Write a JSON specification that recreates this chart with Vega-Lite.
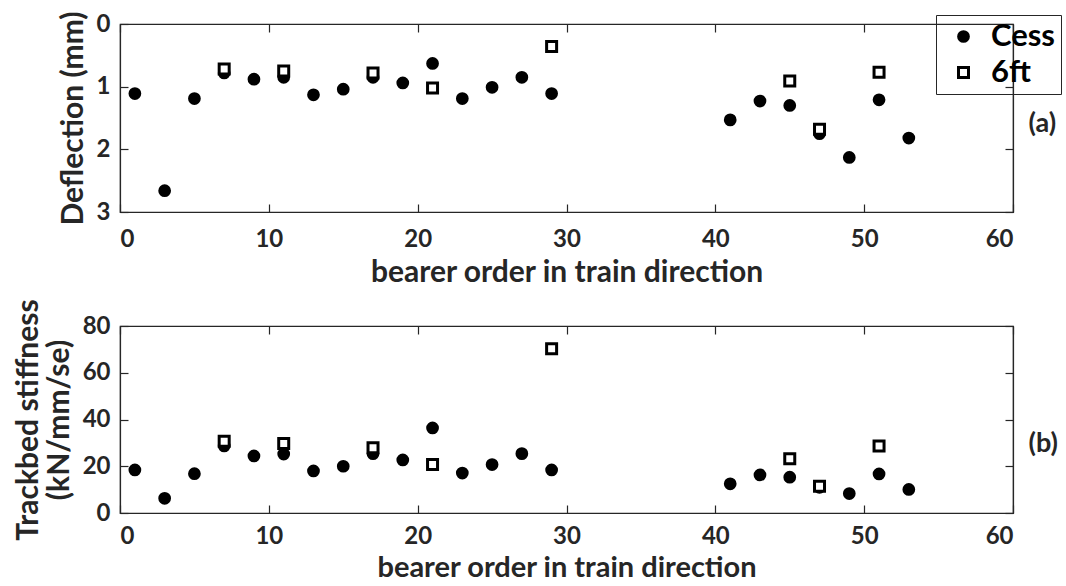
{
  "$schema": "https://vega.github.io/schema/vega-lite/v6.json",
  "background": "white",
  "padding": {"left": 12, "top": 10, "right": 0, "bottom": 0},
  "config": {
    "font": "Lato",
    "view": {"stroke": "#262626", "strokeWidth": 1.2},
    "axis": {
      "labelFont": "Lato", "labelFontSize": 24, "labelFontWeight": "bold", "labelColor": "#262626",
      "titleFont": "Lato", "titleFontSize": 30, "titleFontWeight": "bold", "titleColor": "#262626",
      "grid": false, "domainColor": "#262626", "domainWidth": 1.2, "tickColor": "#262626", "tickWidth": 1.2,
      "tickSize": -8
    },
    "axisX": {"labelPadding": 23, "titlePadding": 4},
    "axisY": {"labelPadding": 18, "titlePadding": 6, "titleLineHeight": 31},
    "legend": {"labelFont": "Lato", "labelFontSize": 31, "labelFontWeight": "bold", "labelColor": "#000"}
  },
  "data": {"values": [
    {"bearer": 1, "series": "Cess", "deflection": 1.11, "stiffness": 18.4},
    {"bearer": 3, "series": "Cess", "deflection": 2.66, "stiffness": 6.3},
    {"bearer": 5, "series": "Cess", "deflection": 1.19, "stiffness": 16.8},
    {"bearer": 7, "series": "Cess", "deflection": 0.78, "stiffness": 28.7},
    {"bearer": 9, "series": "Cess", "deflection": 0.88, "stiffness": 24.4},
    {"bearer": 11, "series": "Cess", "deflection": 0.85, "stiffness": 25.2},
    {"bearer": 13, "series": "Cess", "deflection": 1.13, "stiffness": 18.0},
    {"bearer": 15, "series": "Cess", "deflection": 1.04, "stiffness": 20.0},
    {"bearer": 17, "series": "Cess", "deflection": 0.85, "stiffness": 25.4},
    {"bearer": 19, "series": "Cess", "deflection": 0.94, "stiffness": 22.7},
    {"bearer": 21, "series": "Cess", "deflection": 0.63, "stiffness": 36.4},
    {"bearer": 23, "series": "Cess", "deflection": 1.19, "stiffness": 17.1},
    {"bearer": 25, "series": "Cess", "deflection": 1.01, "stiffness": 20.7},
    {"bearer": 27, "series": "Cess", "deflection": 0.85, "stiffness": 25.4},
    {"bearer": 29, "series": "Cess", "deflection": 1.11, "stiffness": 18.4},
    {"bearer": 41, "series": "Cess", "deflection": 1.53, "stiffness": 12.5},
    {"bearer": 43, "series": "Cess", "deflection": 1.23, "stiffness": 16.3},
    {"bearer": 45, "series": "Cess", "deflection": 1.30, "stiffness": 15.3},
    {"bearer": 47, "series": "Cess", "deflection": 1.75, "stiffness": 11.0},
    {"bearer": 49, "series": "Cess", "deflection": 2.13, "stiffness": 8.3},
    {"bearer": 51, "series": "Cess", "deflection": 1.21, "stiffness": 16.7},
    {"bearer": 53, "series": "Cess", "deflection": 1.82, "stiffness": 10.1},
    {"bearer": 7, "series": "6ft", "deflection": 0.72, "stiffness": 30.7},
    {"bearer": 11, "series": "6ft", "deflection": 0.75, "stiffness": 29.7},
    {"bearer": 17, "series": "6ft", "deflection": 0.78, "stiffness": 27.9},
    {"bearer": 21, "series": "6ft", "deflection": 1.02, "stiffness": 20.7},
    {"bearer": 29, "series": "6ft", "deflection": 0.36, "stiffness": 70.3},
    {"bearer": 45, "series": "6ft", "deflection": 0.91, "stiffness": 23.2},
    {"bearer": 47, "series": "6ft", "deflection": 1.68, "stiffness": 11.4},
    {"bearer": 51, "series": "6ft", "deflection": 0.77, "stiffness": 28.7}
  ]},
  "bounds": "flush",
  "spacing": 114,
  "vconcat": [
    {
      "width": 893, "height": 188,
      "resolve": {"axis": {"x": "independent", "y": "independent"}},
      "layer": [
        {
          "mark": {"type": "point", "filled": false, "stroke": "black", "strokeWidth": 3, "opacity": 1},
          "encoding": {
            "x": {"field": "bearer", "type": "quantitative", "scale": {"domain": [0, 60], "nice": false},
                  "axis": {"orient": "bottom", "values": [0, 10, 20, 30, 40, 50, 60], "title": "bearer order in train direction", "titlePadding": 6}},
            "y": {"field": "deflection", "type": "quantitative", "scale": {"domain": [0, 3], "reverse": true, "nice": false},
                  "axis": {"orient": "left", "values": [0, 1, 2, 3], "title": "Deflection (mm)", "titlePadding": 8}},
            "shape": {"field": "series", "type": "nominal", "scale": {"domain": ["Cess", "6ft"], "range": ["circle", "square"]},
                      "legend": {"title": null, "orient": "none", "legendX": 816, "legendY": -9, "strokeColor": "#262626", "padding": 6, "rowPadding": 4, "symbolStrokeWidth": 3, "symbolOffset": 6, "labelOffset": 12}},
            "fill": {"field": "series", "type": "nominal", "scale": {"domain": ["Cess", "6ft"], "range": ["black", "white"]},
                     "legend": {"title": null, "orient": "none", "legendX": 816, "legendY": -9, "strokeColor": "#262626", "padding": 6, "rowPadding": 4, "symbolStrokeWidth": 3, "symbolOffset": 6, "labelOffset": 12}},
            "size": {"field": "series", "type": "nominal", "scale": {"domain": ["Cess", "6ft"], "range": [95, 100]},
                     "legend": {"title": null, "orient": "none", "legendX": 816, "legendY": -9, "strokeColor": "#262626", "padding": 6, "rowPadding": 4, "symbolStrokeWidth": 3, "symbolOffset": 6, "labelOffset": 12}}
          }
        },
        {
          "mark": {"type": "point", "opacity": 0},
          "encoding": {
            "x": {"field": "bearer", "type": "quantitative",
                  "axis": {"orient": "top", "values": [0, 10, 20, 30, 40, 50, 60], "labels": false, "title": null}},
            "y": {"field": "deflection", "type": "quantitative",
                  "axis": {"orient": "right", "values": [0, 1, 2, 3], "labels": false, "title": "(a)", "titleAngle": 0, "titleAlign": "left", "titleBaseline": "middle", "titleX": 15, "titleY": 99, "titleFontSize": 27}}
          }
        }
      ]
    },
    {
      "width": 893, "height": 187,
      "resolve": {"axis": {"x": "independent", "y": "independent"}},
      "layer": [
        {
          "mark": {"type": "point", "filled": false, "stroke": "black", "strokeWidth": 3, "opacity": 1},
          "encoding": {
            "x": {"field": "bearer", "type": "quantitative", "scale": {"domain": [0, 60], "nice": false},
                  "axis": {"orient": "bottom", "values": [0, 10, 20, 30, 40, 50, 60], "title": "bearer order in train direction", "labelPadding": 19, "titlePadding": 5, "titleFontSize": 29}},
            "y": {"field": "stiffness", "type": "quantitative", "scale": {"domain": [0, 80], "nice": false},
                  "axis": {"orient": "left", "values": [0, 20, 40, 60, 80], "title": ["Trackbed stiffness", "(kN/mm/se)"], "titlePadding": 8}},
            "shape": {"field": "series", "type": "nominal", "scale": {"domain": ["Cess", "6ft"], "range": ["circle", "square"]}, "legend": null},
            "fill": {"field": "series", "type": "nominal", "scale": {"domain": ["Cess", "6ft"], "range": ["black", "white"]}, "legend": null},
            "size": {"field": "series", "type": "nominal", "scale": {"domain": ["Cess", "6ft"], "range": [95, 100]}, "legend": null}
          }
        },
        {
          "mark": {"type": "point", "opacity": 0},
          "encoding": {
            "x": {"field": "bearer", "type": "quantitative",
                  "axis": {"orient": "top", "values": [0, 10, 20, 30, 40, 50, 60], "labels": false, "title": null}},
            "y": {"field": "stiffness", "type": "quantitative",
                  "axis": {"orient": "right", "values": [0, 20, 40, 60, 80], "labels": false, "title": "(b)", "titleAngle": 0, "titleAlign": "left", "titleBaseline": "middle", "titleX": 15, "titleY": 117, "titleFontSize": 27}}
          }
        }
      ]
    }
  ]
}
